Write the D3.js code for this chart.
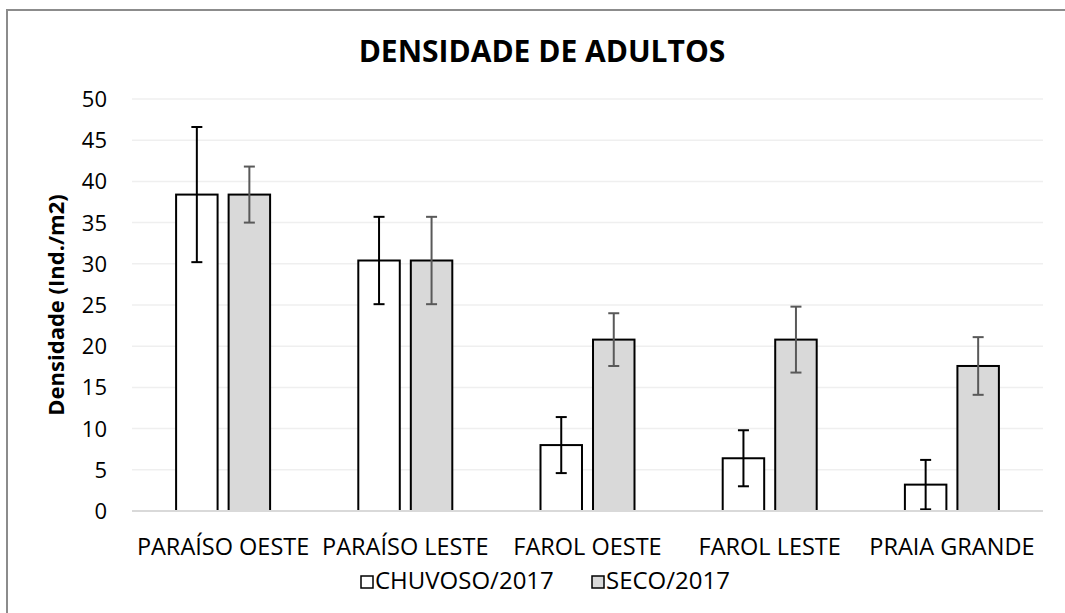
<!DOCTYPE html>
<html>
<head>
<meta charset="utf-8">
<title>Densidade de Adultos</title>
<script src="https://d3js.org/d3.v7.min.js"></script>
<style>
    html, body {
        margin: 0;
        overflow: hidden;
        background: #fff;
        font-family: 'Open Sans', sans-serif;
    }
    svg {
        display: block;
    }
    .grid line {
        stroke: #efefef;
        stroke-width: 1.5px;
    }
    .tickLabel {
        font-size: 22px;
        fill: #000;
    }
    .catLabel {
        font-size: 23.5px;
        fill: #000;
    }
    .legendLabel {
        font-size: 24px;
        fill: #000;
    }
    .chartTitle {
        font-size: 30px;
        font-weight: 700;
    }
    .axisTitle {
        font-size: 22px;
        font-weight: 700;
    }
</style>
</head>
<body>
<svg id="chart" width="1065" height="613"></svg>
<script>
    // values
    var categories = ["PARAÍSO OESTE", "PARAÍSO LESTE", "FAROL OESTE", "FAROL LESTE", "PRAIA GRANDE"];
    var seriesNames = ["CHUVOSO/2017", "SECO/2017"];
    var chuvoso = [38.4, 30.4, 8.0, 6.4, 3.2];
    var chuvosoErr = [8.2, 5.3, 3.4, 3.4, 3.0];
    var seco = [38.4, 30.4, 20.8, 20.8, 17.6];
    var secoErr = [3.4, 5.3, 3.2, 4.0, 3.5];
    var yTicks = [0, 5, 10, 15, 20, 25, 30, 35, 40, 45, 50];

    var fills = ["#ffffff", "#d9d9d9"];
    var errColors = ["#000000", "#595959"];

    var svg = d3.select("svg#chart");
    const margin = { top: 99, right: 22, bottom: 102, left: 132 };
    const width = +svg.attr("width"), height = +svg.attr("height");

    // outer chart border, only the top and left edges are inside the picture
    svg.append("path")
        .attr("d", "M7," + height + "V10H" + width)
        .attr("fill", "none")
        .attr("stroke", "#8c8c8c")
        .attr("stroke-width", 2);

    var y = d3.scaleLinear().domain([0, 50]).range([height - margin.bottom, margin.top]);
    var x0 = d3.scaleBand().domain(categories).range([margin.left, width - margin.right]);
    var groupW = 94;
    var x1 = d3.scaleBand().domain(seriesNames).range([0, groupW]).paddingInner(0.21);

    // gridlines
    svg.append("g").attr("class", "grid")
        .selectAll("line")
        .data(yTicks.filter(d => d > 0))
        .enter().append("line")
        .attr("x1", margin.left).attr("x2", width - margin.right)
        .attr("y1", d => y(d)).attr("y2", d => y(d));

    // y tick labels
    svg.append("g")
        .selectAll("text")
        .data(yTicks)
        .enter().append("text")
        .attr("class", "tickLabel")
        .attr("x", margin.left - 25)
        .attr("y", d => y(d) + 8)
        .attr("text-anchor", "end")
        .text(d => d);

    // bars + error bars
    var data = [
        { name: seriesNames[0], values: chuvoso, errs: chuvosoErr },
        { name: seriesNames[1], values: seco, errs: secoErr }
    ];
    data.forEach((s, si) => {
        var g = svg.append("g");
        g.selectAll("rect")
            .data(s.values)
            .enter().append("rect")
            .attr("x", (d, i) => x0(categories[i]) + (x0.bandwidth() - groupW) / 2 + x1(s.name))
            .attr("y", d => y(d))
            .attr("width", x1.bandwidth())
            .attr("height", d => y(0) - y(d))
            .attr("fill", fills[si])
            .attr("stroke", "#000")
            .attr("stroke-width", 2);

        var cx = i => x0(categories[i]) + (x0.bandwidth() - groupW) / 2 + x1(s.name) + x1.bandwidth() / 2;
        var eb = g.append("g").attr("stroke", errColors[si]).attr("stroke-width", 2).attr("fill", "none");
        s.values.forEach((v, i) => {
            var hi = y(v + s.errs[i]), lo = y(v - s.errs[i]);
            eb.append("line").attr("x1", cx(i)).attr("x2", cx(i)).attr("y1", hi).attr("y2", lo);
            eb.append("line").attr("x1", cx(i) - 5.5).attr("x2", cx(i) + 5.5).attr("y1", hi).attr("y2", hi);
            eb.append("line").attr("x1", cx(i) - 5.5).attr("x2", cx(i) + 5.5).attr("y1", lo).attr("y2", lo);
        });
    });

    // baseline axis
    svg.append("line")
        .attr("x1", margin.left).attr("x2", width - margin.right)
        .attr("y1", y(0)).attr("y2", y(0))
        .attr("stroke", "#d9d9d9").attr("stroke-width", 2);

    // category labels
    svg.append("g")
        .selectAll("text")
        .data(categories)
        .enter().append("text")
        .attr("class", "catLabel")
        .attr("x", d => x0(d) + x0.bandwidth() / 2)
        .attr("y", 555)
        .attr("text-anchor", "middle")
        .text(d => d);

    // title
    svg.append("text")
        .attr("class", "chartTitle")
        .attr("x", 542).attr("y", 62)
        .attr("text-anchor", "middle")
        .text("DENSIDADE DE ADULTOS");

    // y axis title
    svg.append("text")
        .attr("class", "axisTitle")
        .attr("transform", "translate(64," + (y(25)) + ") rotate(-90)")
        .attr("text-anchor", "middle")
        .text("Densidade (Ind./m2)");

    // legend
    var legendX = [361, 592];
    var legend = svg.append("g");
    seriesNames.forEach((n, i) => {
        legend.append("rect")
            .attr("x", legendX[i]).attr("y", 576)
            .attr("width", 12).attr("height", 12)
            .attr("fill", fills[i]).attr("stroke", "#000").attr("stroke-width", 1.5);
        legend.append("text")
            .attr("class", "legendLabel")
            .attr("x", legendX[i] + 14).attr("y", 589)
            .text(n);
    });
</script>
</body>
</html>
